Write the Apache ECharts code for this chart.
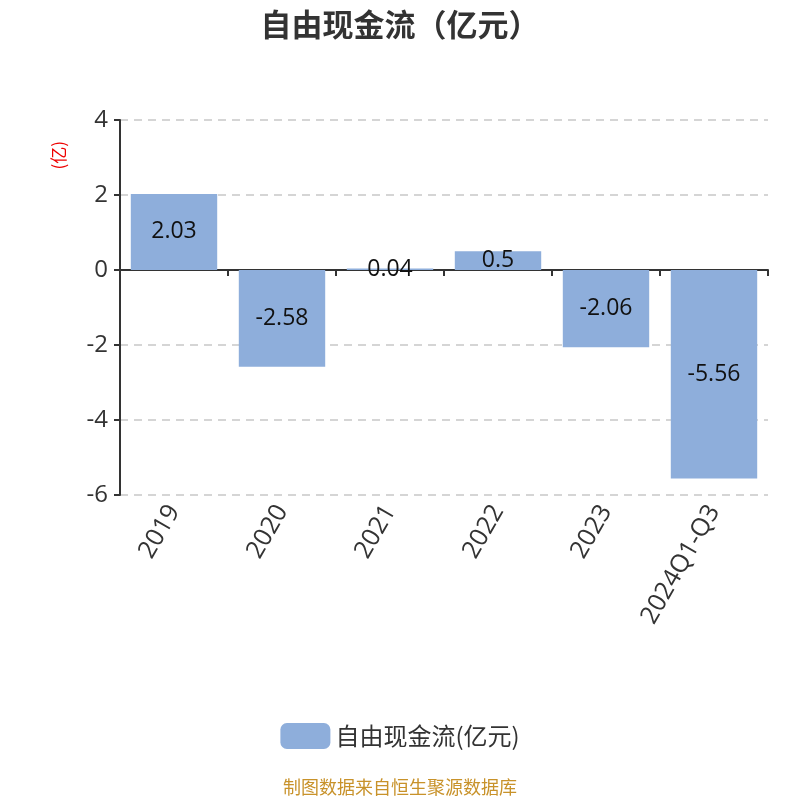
<!DOCTYPE html>
<html><head><meta charset="utf-8">
<script src="https://cdn.jsdelivr.net/npm/echarts@6/dist/echarts.min.js"></script>
<style>html,body{margin:0;padding:0;background:#fff}#c{width:800px;height:800px}</style>
</head><body><div id="c"></div>
<script>
var categories = ['2019','2020','2021','2022','2023','2024Q1-Q3'];
var values = [2.03, -2.58, 0.04, 0.5, -2.06, -5.56];
var yTicks = {min: -6, max: 4, interval: 2};
var chart = echarts.init(document.getElementById('c'));
chart.setOption({
  animation: false,
  title: {text: '自由现金流（亿元）', left: 'center', top: 4,
    textStyle: {fontSize: 31, fontWeight: 'bold', color: '#333', fontFamily: 'Noto Sans CJK SC'}},
  grid: {left: 120, right: 32, top: 120, bottom: 305},
  legend: {bottom: 46, itemWidth: 50, itemHeight: 26, itemGap: 10,
    textStyle: {fontSize: 24, color: '#333', fontFamily: 'Noto Sans CJK SC'},
    data: ['自由现金流(亿元)']},
  xAxis: {type: 'category', data: categories,
    axisLine: {lineStyle: {color: '#333', width: 2}},
    axisTick: {show: true, length: 6, lineStyle: {color: '#333', width: 2}},
    axisLabel: {rotate: 60, fontSize: 25, color: '#333', margin: 12, fontFamily: 'Open Sans'}},
  yAxis: {type: 'value', min: yTicks.min, max: yTicks.max, interval: yTicks.interval,
    axisLine: {show: true, lineStyle: {color: '#333', width: 2}},
    axisTick: {show: true, length: 6, lineStyle: {color: '#333', width: 2}},
    axisLabel: {fontSize: 24, color: '#333', margin: 12, fontFamily: 'Open Sans'},
    splitLine: {lineStyle: {type: [8, 6], color: '#c8c8c8', width: 1.5}}},
  graphic: [
    {type: 'text', left: 50, top: 141, rotation: Math.PI/2, originX: 0, originY: 0,
     style: {text: '(亿)', fill: '#e00', fontSize: 17, fontFamily: 'Noto Sans CJK SC'}},
    {type: 'text', left: 'center', top: 778,
     style: {text: '制图数据来自恒生聚源数据库', fill: '#c8922a', fontSize: 18, fontFamily: 'Noto Sans CJK SC'}}
  ],
  series: [{name: '自由现金流(亿元)', type: 'bar', data: values, barWidth: '80%',
    itemStyle: {color: '#8eaedb'},
    label: {show: true, position: 'inside', fontSize: 23, color: '#111', fontFamily: 'Open Sans'}}]
});
</script></body></html>
